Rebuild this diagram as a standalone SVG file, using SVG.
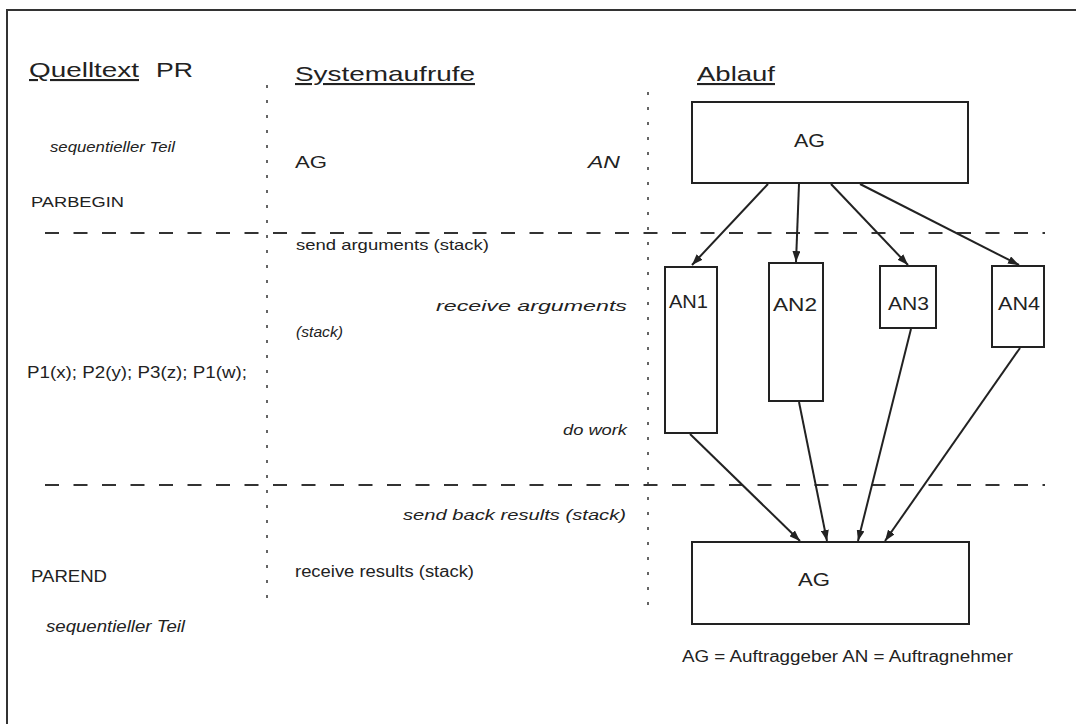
<svg xmlns="http://www.w3.org/2000/svg" width="1076" height="724" viewBox="0 0 1076 724">
<defs>
<marker id="ah" viewBox="0 0 11 8" refX="11" refY="4" markerWidth="11" markerHeight="8" markerUnits="userSpaceOnUse" orient="auto">
<path d="M0,0 L11,4 L0,8 Z" fill="#222"/>
</marker>
<style>
text{font-family:"Liberation Sans",Arial,sans-serif;fill:#222}
.it{font-style:italic}
.box{fill:#fff;stroke:#222;stroke-width:2}
.con{stroke:#222;stroke-width:2;fill:none;marker-end:url(#ah)}
.dot{stroke:#333;stroke-width:1.5;stroke-dasharray:3 12;fill:none}
.dash{stroke:#333;stroke-width:2;stroke-dasharray:14 14.5;fill:none}
</style>
</defs>
<rect width="1076" height="724" fill="#fff"/>
<path d="M7,724 L7,10 L1076,10" fill="none" stroke="#333" stroke-width="2"/>

<g id="separators">
<line class="dot" x1="267" y1="85" x2="267" y2="602"/>
<line class="dot" x1="648" y1="92" x2="648" y2="606"/>
<line class="dash" x1="45" y1="233" x2="1045" y2="233"/>
<line class="dash" x1="45" y1="485" x2="1045" y2="485"/>
</g>

<g id="headers">
<text x="29" y="77" font-size="21" textLength="110" lengthAdjust="spacingAndGlyphs" text-decoration="underline">Quelltext</text>
<text x="156" y="77" font-size="21" textLength="37" lengthAdjust="spacingAndGlyphs">PR</text>
<text x="295" y="81" font-size="21" textLength="180" lengthAdjust="spacingAndGlyphs" text-decoration="underline">Systemaufrufe</text>
<text x="697" y="81" font-size="21" textLength="78" lengthAdjust="spacingAndGlyphs" text-decoration="underline">Ablauf</text>
</g>

<g id="source-text">
<text class="it" x="50" y="152" font-size="14" textLength="125" lengthAdjust="spacingAndGlyphs">sequentieller Teil</text>
<text x="31" y="207" font-size="15" textLength="93" lengthAdjust="spacingAndGlyphs">PARBEGIN</text>
<text x="27" y="378" font-size="16" textLength="220" lengthAdjust="spacingAndGlyphs">P1(x); P2(y); P3(z); P1(w);</text>
<text x="31" y="582" font-size="16" textLength="76" lengthAdjust="spacingAndGlyphs">PAREND</text>
<text class="it" x="46" y="632" font-size="16" textLength="139" lengthAdjust="spacingAndGlyphs">sequentieller Teil</text>
</g>

<g id="system-calls">
<text x="295" y="168" font-size="17" textLength="32" lengthAdjust="spacingAndGlyphs">AG</text>
<text class="it" x="588" y="168" font-size="17" textLength="32" lengthAdjust="spacingAndGlyphs">AN</text>
<text x="296" y="250" font-size="15" textLength="193" lengthAdjust="spacingAndGlyphs">send arguments (stack)</text>
<text class="it" x="436" y="311" font-size="15" textLength="191" lengthAdjust="spacingAndGlyphs">receive arguments</text>
<text class="it" x="296" y="337" font-size="15" textLength="47" lengthAdjust="spacingAndGlyphs">(stack)</text>
<text class="it" x="563" y="435" font-size="15" textLength="64" lengthAdjust="spacingAndGlyphs">do work</text>
<text class="it" x="403" y="520" font-size="15" textLength="223" lengthAdjust="spacingAndGlyphs">send back results (stack)</text>
<text x="295" y="577" font-size="16" textLength="179" lengthAdjust="spacingAndGlyphs">receive results (stack)</text>
</g>

<g id="AG-top">
<rect class="box" x="692" y="102" width="276" height="81"/>
<text x="794" y="147" font-size="18" textLength="31" lengthAdjust="spacingAndGlyphs">AG</text>
</g>
<g id="AN1">
<rect class="box" x="665" y="267" width="52" height="166"/>
<text x="669" y="308" font-size="18" textLength="39" lengthAdjust="spacingAndGlyphs">AN1</text>
</g>
<g id="AN2">
<rect class="box" x="769" y="263" width="54" height="138"/>
<text x="773" y="311" font-size="18" textLength="44" lengthAdjust="spacingAndGlyphs">AN2</text>
</g>
<g id="AN3">
<rect class="box" x="880" y="266" width="56" height="62"/>
<text x="888" y="310" font-size="18" textLength="41" lengthAdjust="spacingAndGlyphs">AN3</text>
</g>
<g id="AN4">
<rect class="box" x="992" y="266" width="52" height="81"/>
<text x="998" y="310" font-size="18" textLength="42" lengthAdjust="spacingAndGlyphs">AN4</text>
</g>
<g id="AG-bottom">
<rect class="box" x="692" y="542" width="277" height="82"/>
<text x="798" y="586" font-size="18" textLength="32" lengthAdjust="spacingAndGlyphs">AG</text>
</g>

<g id="connectors">
<line class="con" x1="768" y1="184" x2="692" y2="265"/>
<line class="con" x1="799" y1="184" x2="796" y2="262"/>
<line class="con" x1="831" y1="184" x2="908" y2="265"/>
<line class="con" x1="860" y1="184" x2="1019" y2="265"/>
<line class="con" x1="690" y1="434" x2="800" y2="541"/>
<line class="con" x1="799" y1="402" x2="827" y2="541"/>
<line class="con" x1="911" y1="329" x2="858" y2="541"/>
<line class="con" x1="1020" y1="348" x2="885" y2="541"/>
</g>

<g id="legend">
<text x="682" y="662" font-size="16" textLength="331" lengthAdjust="spacingAndGlyphs">AG = Auftraggeber AN = Auftragnehmer</text>
</g>
</svg>
